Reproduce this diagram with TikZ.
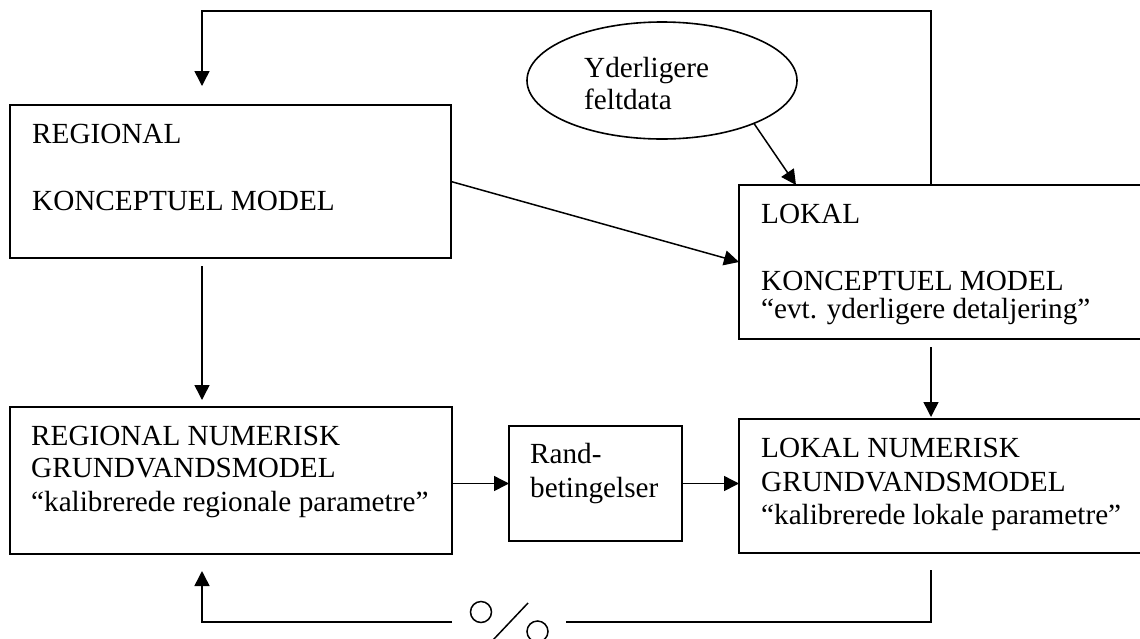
\documentclass[tikz,border=0pt]{standalone}
\usepackage{fontspec}
\setmainfont{Liberation Serif}
\usetikzlibrary{arrows.meta,shapes.geometric,calc}

\tikzset{
  boks/.style={draw, line width=1.6pt, anchor=north west, inner sep=0pt, outer sep=0pt},
  tekst/.style={anchor=base west, inner sep=0pt, font=\fontsize{29.2}{33}\selectfont},
  pil/.style={line width=1.5pt, -{Triangle[length=15pt,width=15pt]}},
  linje/.style={line width=1.5pt},
}

\begin{document}
\begin{tikzpicture}[x=1pt,y=-1pt]
\useasboundingbox (0,0) rectangle (1140,638);
\clip (0,0) rectangle (1140,638);

\coordinate (top) at (0,11);
\coordinate (lkup) at (931,185);
\coordinate (rkin) at (202,86);
\coordinate (rkout) at (202,266);
\coordinate (rnin) at (202,400);
\coordinate (lkout) at (931,347);
\coordinate (lnin) at (931,417);
\coordinate (lnout) at (931,570);
\coordinate (rnup) at (202,571);
\coordinate (sw1) at (452,622);
\coordinate (sw2) at (566,622);

% kasser
\node[boks, minimum width=441pt, minimum height=153pt] (rk) at (10,105) {};
\node[boks, minimum width=406pt, minimum height=154pt] (lk) at (739,185) {};
\node[boks, minimum width=442pt, minimum height=147pt] (rn) at (10,407) {};
\node[boks, minimum width=173pt, minimum height=115pt] (rb) at (509,426) {};
\node[boks, minimum width=406pt, minimum height=134pt] (ln) at (739,419) {};
\node[draw, ellipse, line width=1.6pt, inner sep=0pt, outer sep=0pt,
      minimum width=270pt, minimum height=117pt] (yf) at (662,80.5) {};

\node[tekst] (rk1) at (32,143) {REGIONAL};
\node[tekst] (rk2) at (32,210) {KONCEPTUEL MODEL};
\node[tekst] (yf1) at (584,77) {Yderligere};
\node[tekst] (yf2) at (584,109) {feltdata};
\node[tekst] (lk1) at (761,223) {LOKAL};
\node[tekst] (lk2) at (761,290) {KONCEPTUEL MODEL};
\node[tekst] (lk3) at (761,318) {“evt. yderligere detaljering”};
\node[tekst] (rn1) at (31,445) {REGIONAL NUMERISK};
\node[tekst] (rn2) at (31,477) {GRUNDVANDSMODEL};
\node[tekst] (rn3) at (31,511) {“kalibrerede regionale parametre”};
\node[tekst] (rb1) at (530,463) {Rand-};
\node[tekst] (rb2) at (530,497) {betingelser};
\node[tekst] (ln1) at (761,457) {LOKAL NUMERISK};
\node[tekst] (ln2) at (761,491) {GRUNDVANDSMODEL};
\node[tekst] (ln3) at (761,524) {“kalibrerede lokale parametre”};

% pile
\draw[pil] (lkup) -- (lkup |- top) -| (rkin);
\draw[pil] (rk.east) -- (lk.west);
\draw[pil] (yf.-25) -- ($(lk.north west)+(57,0)$);
\draw[pil] (rkout) -- (rnin);
\draw[pil] (lkout) -- (lnin);
\draw[pil] (rn.east |- rb.west) -- (rb.west);
\draw[pil] (rb.east) -- (rb.east -| ln.west);

% tilbagekobling med afbryder
\draw[linje] (lnout) |- (sw2);
\draw[pil] (sw1) -| (rnup);
\draw[linje] (481,612) circle[radius=10.5pt];
\draw[linje] (493,640) -- (528,603);
\draw[linje] (537.5,631.5) circle[radius=10.5pt];

\end{tikzpicture}
\end{document}
